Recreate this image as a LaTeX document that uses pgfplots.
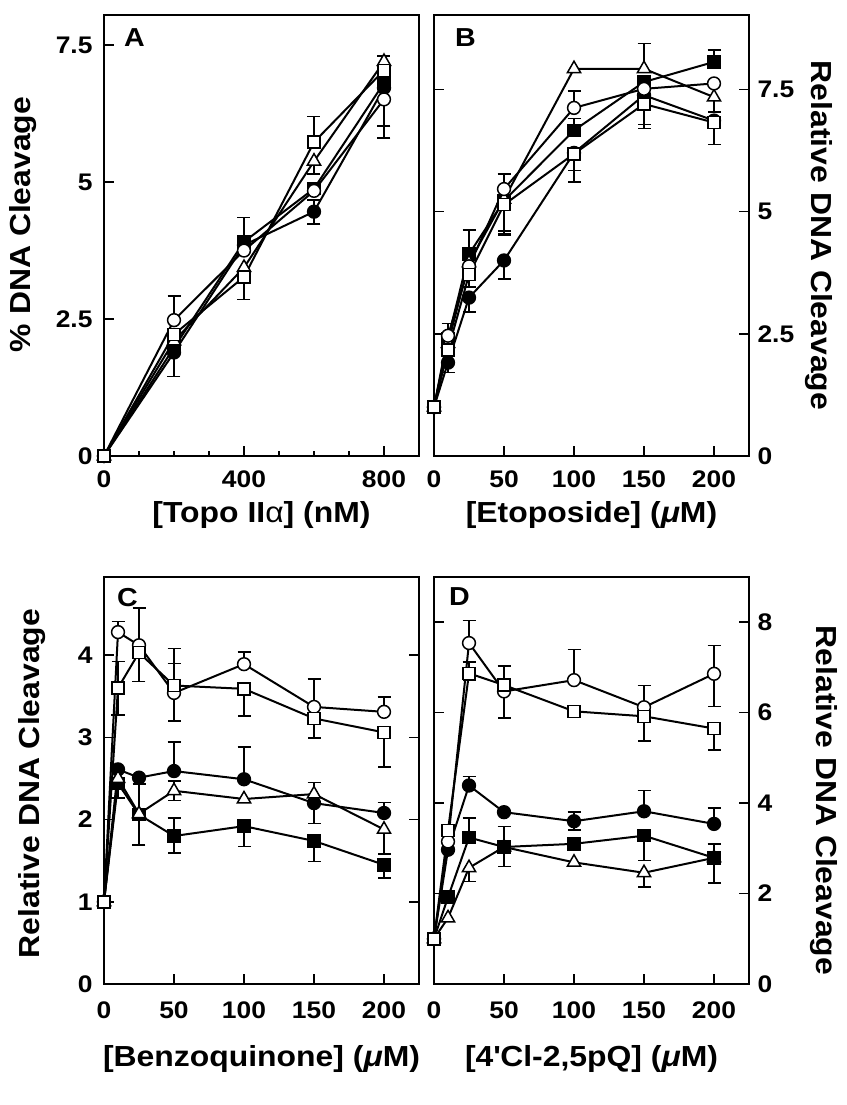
\documentclass[border=0pt]{standalone}
\usepackage{pgfplots}
\pgfplotsset{compat=1.18}
\usepackage{fontspec}
\setmainfont{Liberation Sans}[FakeStretch=1.1]
\newcommand\tickfs{\fontsize{24pt}{28pt}\selectfont\bfseries}
\newcommand\labfs{\fontsize{29pt}{33pt}\selectfont\bfseries}
\newcommand\letfs{\fontsize{26pt}{30pt}\selectfont\bfseries}
\newcommand\mum{({\itshape μ}M)}

\pgfplotsset{
 panel/.style={
   scale only axis, width=315pt, clip=false,
   axis line style={line width=2pt},
   every tick/.style={black, line width=1.6pt},
   major tick length=10pt, minor tick length=5pt,
   tick align=inside,
   xticklabel style={font=\tickfs, yshift=-11pt},
   yticklabel style={font=\tickfs},
   label style={font=\labfs},
   every axis plot/.append style={line width=2pt, black,
     error bars/y dir=both, error bars/y explicit,
     error bars/error bar style={line width=1.6pt, black},
     error bars/error mark options={rotate=90, mark size=6.5pt, line width=1.6pt, black}},
 },
 fc/.style={mark=*, mark size=6.4pt, mark options={fill=black, line width=1.5pt}},
 oc/.style={mark=*, mark size=6.4pt, mark options={fill=white, line width=1.5pt}},
 fs/.style={mark=square*, mark size=6pt, mark options={fill=black, line width=1.5pt}},
 os/.style={mark=square*, mark size=6pt, mark options={fill=white, line width=1.5pt}},
 ot/.style={mark=triangle*, mark size=7.6pt, mark options={fill=white, line width=1.5pt}},
}

\begin{document}
\begin{tikzpicture}
\useasboundingbox (0pt,0pt) rectangle (846pt,-1105pt);

% ---------------- A ----------------
\begin{axis}[panel, at={(104pt,-456pt)}, anchor=south west, height=441pt,
  xmin=0, xmax=900, ymin=0, ymax=8.05,
  xtick={0,400,800}, xticklabels={0,400,800},
  minor xtick={100,200,300,500,600,700},
  ytick={0,2.5,5,7.5}, yticklabels={0,2.5,5,7.5},
  xtick pos=left, ytick pos=left,
  yticklabel style={xshift=-8pt},
  xlabel={[Topo II{\mdseries α}] (nM)},
  ylabel={\% DNA Cleavage},
  xlabel style={at={([yshift=-59pt]axis description cs:0.5,0)}, anchor=center},
  ylabel style={at={([xshift=-81pt,yshift=11pt]axis description cs:0,0.5)}, anchor=center},
]
\addplot[fc] coordinates {(0,0) (200,1.89) -= (0,0.44) (400,3.85) (600,4.46) += (0,0.21) -= (0,0.22) (800,6.72) -= (0,0.70)};
\addplot[fs] coordinates {(0,0) (200,1.98) (400,3.91) += (0,0.44) (600,4.88) (800,6.81)};
\addplot[ot] coordinates {(0,0) (200,2.10) (400,3.44) (600,5.38) -= (0,0.23) (800,7.20) += (0,0.10)};
\addplot[oc] coordinates {(0,0) (200,2.48) += (0,0.44) (400,3.75) (600,4.84) (800,6.51) -= (0,0.70)};
\addplot[os] coordinates {(0,0) (200,2.22) (400,3.27) -= (0,0.41) (600,5.73) += (0,0.47) (800,7.04)};
\node[font=\letfs, anchor=north west, inner sep=0pt] at ([xshift=20pt,yshift=-13pt]axis description cs:0,1) {A};
\end{axis}

% ---------------- B ----------------
\begin{axis}[panel, at={(434pt,-456pt)}, anchor=south west, height=441pt,
  xmin=0, xmax=225, ymin=0, ymax=9.02,
  xtick={0,50,100,150,200}, xticklabels={0,50,100,150,200},
  ytick={0,2.5,5,7.5}, yticklabels={0,2.5,5,7.5},
  xtick pos=left, ytick pos=both, yticklabel pos=right,
  yticklabel style={xshift=5pt},
  xlabel={[Etoposide] \mum},
  ylabel={Relative DNA Cleavage},
  xlabel style={at={([yshift=-59pt]axis description cs:0.5,0)}, anchor=center},
  ylabel style={at={([xshift=70pt]axis description cs:1,0.5)}, anchor=center, rotate=180},
]
\addplot[fc] coordinates {(0,1) (10,1.91) -= (0,0.20) (25,3.24) -= (0,0.30) (50,4.00) -= (0,0.38) (100,6.20) -= (0,0.36) (150,7.38) -= (0,0.60) (200,6.86)};
\addplot[fs] coordinates {(0,1) (10,2.40) (25,4.13) += (0,0.49) (50,5.22) -= (0,0.70) (100,6.66) += (0,0.24) (150,7.65) (200,8.06) += (0,0.24)};
\addplot[ot] coordinates {(0,1) (10,2.30) (25,3.95) (50,5.25) -= (0,0.65) (100,7.92) (150,7.92) += (0,0.52) (200,7.34) -= (0,0.30)};
\addplot[oc] coordinates {(0,1) (10,2.46) += (0,0.25) (25,3.88) (50,5.46) += (0,0.31) (100,7.12) += (0,0.34) (150,7.51) (200,7.62)};
\addplot[os] coordinates {(0,1) (10,2.17) (25,3.71) -= (0,0.25) (50,5.14) -= (0,0.60) (100,6.18) -= (0,0.58) (150,7.20) -= (0,0.50) (200,6.82) -= (0,0.45)};
\node[font=\letfs, anchor=north west, inner sep=0pt] at ([xshift=21pt,yshift=-13pt]axis description cs:0,1) {B};
\end{axis}

% ---------------- C ----------------
\begin{axis}[panel, at={(104pt,-984pt)}, anchor=south west, height=407pt,
  xmin=0, xmax=225, ymin=0, ymax=4.95,
  xtick={0,50,100,150,200}, xticklabels={0,50,100,150,200},
  ytick={0,1,2,3,4}, yticklabels={0,1,2,3,4},
  xtick pos=left, ytick pos=both,
  yticklabel style={xshift=-8pt},
  xticklabel style={yshift=-3pt},
  xlabel={[Benzoquinone] \mum},
  ylabel={Relative DNA Cleavage},
  xlabel style={at={([yshift=-75pt]axis description cs:0.5,0)}, anchor=center},
  ylabel style={at={([xshift=-72pt,yshift=-3pt]axis description cs:0,0.5)}, anchor=center},
]
\addplot[fc] coordinates {(0,1) (10,2.61) (25,2.51) (50,2.59) += (0,0.35) (100,2.49) += (0,0.39) (150,2.20) -= (0,0.25) (200,2.08) += (0,0.13)};
\addplot[fs] coordinates {(0,1) (10,2.44) -= (0,0.18) (25,2.06) -= (0,0.37) (50,1.80) -= (0,0.21) += (0,0.22) (100,1.92) -= (0,0.25) (150,1.74) -= (0,0.25) (200,1.45) -= (0,0.16)};
\addplot[ot] coordinates {(0,1) (10,2.50) (25,2.07) += (0,0.36) (50,2.35) += (0,0.12) -= (0,0.12) (100,2.25) (150,2.31) += (0,0.14) (200,1.88) -= (0,0.30)};
\addplot[oc] coordinates {(0,1) (10,4.28) += (0,0.13) (25,4.12) (50,3.54) += (0,0.36) -= (0,0.34) (100,3.89) += (0,0.15) (150,3.37) += (0,0.34) (200,3.31) += (0,0.18)};
\addplot[os] coordinates {(0,1) (10,3.60) += (0,0.32) -= (0,0.33) (25,4.03) += (0,0.54) -= (0,0.35) (50,3.63) += (0,0.45) (100,3.59) -= (0,0.33) (150,3.23) -= (0,0.24) (200,3.06) -= (0,0.42)};
\node[font=\letfs, anchor=north west, inner sep=0pt] at ([xshift=13pt,yshift=-11pt]axis description cs:0,1) {C};
\end{axis}

% ---------------- D ----------------
\begin{axis}[panel, at={(434pt,-984pt)}, anchor=south west, height=407pt,
  xmin=0, xmax=225, ymin=0, ymax=9,
  xtick={0,50,100,150,200}, xticklabels={0,50,100,150,200},
  ytick={0,2,4,6,8}, yticklabels={0,2,4,6,8},
  xtick pos=left, ytick pos=both, yticklabel pos=right,
  yticklabel style={xshift=5pt},
  xticklabel style={yshift=-3pt},
  xlabel={[4\textquotesingle Cl-2,5pQ] \mum},
  ylabel={Relative DNA Cleavage},
  xlabel style={at={([yshift=-75pt]axis description cs:0.5,0)}, anchor=center},
  ylabel style={at={([xshift=75pt,yshift=-20pt]axis description cs:1,0.5)}, anchor=center, rotate=180},
]
\addplot[fc] coordinates {(0,1) (10,2.97) (25,4.39) += (0,0.20) (50,3.80) (100,3.60) += (0,0.20) -= (0,0.20) (150,3.82) += (0,0.46) (200,3.54) += (0,0.35)};
\addplot[ot] coordinates {(0,1) (10,1.46) (25,2.57) -= (0,0.30) (50,3.03) (100,2.69) (150,2.46) -= (0,0.32) (200,2.79) += (0,0.30)};
\addplot[fs] coordinates {(0,1) (10,1.92) (25,3.24) += (0,0.43) (50,3.03) += (0,0.45) -= (0,0.43) (100,3.10) (150,3.28) -= (0,0.55) (200,2.79) -= (0,0.56)};
\addplot[oc] coordinates {(0,1) (10,3.15) (25,7.54) += (0,0.50) (50,6.47) += (0,0.56) -= (0,0.59) (100,6.72) += (0,0.68) (150,6.12) += (0,0.48) (200,6.86) += (0,0.63) -= (0,0.72)};
\addplot[os] coordinates {(0,1) (10,3.40) (25,6.87) += (0,0.25) -= (0,0.15) (50,6.61) (100,6.03) (150,5.92) -= (0,0.55) (200,5.65) -= (0,0.47)};
\node[font=\letfs, anchor=north west, inner sep=0pt] at ([xshift=15pt,yshift=-10pt]axis description cs:0,1) {D};
\end{axis}
\end{tikzpicture}
\end{document}
